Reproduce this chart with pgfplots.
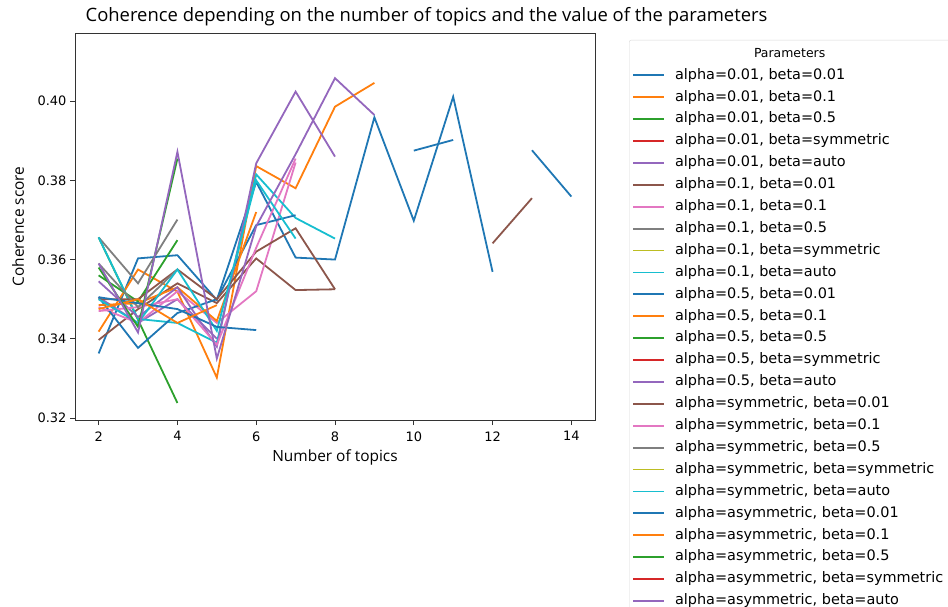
\documentclass[border=0pt]{standalone}
\usepackage{pgfplots}
\pgfplotsset{compat=1.18}
\usepackage{fontspec}
\setmainfont{DejaVu Sans}
\newfontfamily\titlefont{Open Sans}
\newfontfamily\labelfont{Open Sans}
\definecolor{tabblue}{HTML}{1F77B4}
\definecolor{taborange}{HTML}{FF7F0E}
\definecolor{tabgreen}{HTML}{2CA02C}
\definecolor{tabred}{HTML}{D62728}
\definecolor{tabpurple}{HTML}{9467BD}
\definecolor{tabbrown}{HTML}{8C564B}
\definecolor{tabpink}{HTML}{E377C2}
\definecolor{tabgray}{HTML}{7F7F7F}
\definecolor{tabolive}{HTML}{BCBD22}
\definecolor{tabcyan}{HTML}{17BECF}
\begin{document}
\begin{tikzpicture}
\path[use as bounding box] (0bp,0bp) rectangle (948bp,607bp);
\begin{scope}
\clip (0bp,0bp) rectangle (948bp,607bp);
\begin{axis}[
  at={(75bp,187bp)}, anchor=south west,
  width=520bp, height=387bp, scale only axis,
  xmin=1.4, xmax=14.6, ymin=0.3195, ymax=0.4172,
  xtick={2,4,6,8,10,12,14},
  ytick={0.32,0.34,0.36,0.38,0.40},
  yticklabels={0.32,0.34,0.36,0.38,0.40},
  tick label style={font=\fontsize{13}{15}\selectfont},
  xticklabel style={yshift=-3bp},
  /pgf/number format/assume math mode=true,
  tick align=outside, tick pos=left, major tick length=5bp,
  axis line style={draw=black!80, line width=0.9bp},
  every tick/.style={black!80, line width=0.9bp},
  unbounded coords=jump,
  every axis plot/.append style={line width=1.8bp},
  title={\titlefont\fontsize{18.5}{21}\selectfont Coherence depending on the number of topics and the value of the parameters},
  title style={at={(0.676,1.027)}, anchor=center, inner sep=0pt},
  xlabel={\labelfont\fontsize{15.5}{18}\selectfont Number of topics},
  xlabel style={at={(0.5,-0.0956)}, anchor=center, inner sep=0pt},
  ylabel={\labelfont\fontsize{15.5}{18}\selectfont Coherence score},
  ylabel style={at={(-0.1096,0.5)}, anchor=center, inner sep=0pt},
  legend style={at={(1.0654,0.9819)}, anchor=north west, draw=black!15, fill=white,
    rounded corners=2bp, font=\fontsize{14.5}{17}\selectfont,
    nodes={inner sep=0pt, text height=11bp, text depth=3.5bp},
    row sep=7.4bp, column sep=10bp, inner xsep=3bp, inner ysep=6bp},
  legend cell align=left,
  legend image code/.code={\draw[#1, line width=1.8bp] (0bp,0bp) -- (31bp,0bp);},
]
\addlegendimage{empty legend}
\addlegendentry{\hspace*{79bp}\fontsize{12.5}{15}\selectfont Parameters}
% 0
\addplot[tabblue] coordinates {(2,0.3363)(3,0.3603)(4,0.3611)(5,0.3498)(6,0.3796)(7,0.3605)(8,0.3600)(9,0.3959)(10,0.3698)(11,0.4011)(12,0.3569)};
\addlegendentry{alpha=0.01, beta=0.01}
% 1
\addplot[taborange] coordinates {(2,0.3418)(3,0.3575)(4,0.3519)(5,0.3302)(6,0.3836)(7,0.3780)(8,0.3986)(9,0.4046)};
\addlegendentry{alpha=0.01, beta=0.1}
% 2
\addplot[tabgreen] coordinates {(2,0.3656)(3,0.3448)(4,0.3238)};
\addlegendentry{alpha=0.01, beta=0.5}
% 3
\addlegendimage{tabred}
\addlegendentry{alpha=0.01, beta=symmetric}
% 4
\addplot[tabpurple] coordinates {(2,0.3505)(3,0.3440)(4,0.3500)(5,0.3400)};
\addlegendentry{alpha=0.01, beta=auto}
% 5
\addplot[tabbrown] coordinates {(2,0.3397)(3,0.3475)(4,0.3540)(5,0.3490)(6,0.3603)(7,0.3523)(8,0.3525)};
\addlegendentry{alpha=0.1, beta=0.01}
% 6
\addplot[tabpink] coordinates {(2,0.3480)(3,0.3440)(4,0.3520)(5,0.3440)(6,0.3520)(7,0.3845)};
\addlegendentry{alpha=0.1, beta=0.1}
% 7
\addplot[tabgray] coordinates {(2,0.3656)(3,0.3540)(4,0.3701)};
\addlegendentry{alpha=0.1, beta=0.5}
% 8
\addlegendimage{tabolive}
\addlegendentry{alpha=0.1, beta=symmetric}
% 9
\addplot[tabcyan] coordinates {(2,0.3656)(3,0.3450)(4,0.3440)(5,0.3390)(6,0.3815)(7,0.3705)(8,0.3653)};
\addlegendentry{alpha=0.1, beta=auto}
% 10
\addplot[tabblue] coordinates {(2,0.3505)(3,0.3377)(4,0.3465)(5,0.3500)(6,0.3687)(7,0.3712)};
\addlegendentry{alpha=0.5, beta=0.01}
% 11
\addplot[taborange] coordinates {(2,0.3485)(3,0.3490)(4,0.3530)(5,0.3445)(6,0.3720)};
\addlegendentry{alpha=0.5, beta=0.1}
% 12
\addplot[tabgreen] coordinates {(2,0.3560)(3,0.3494)(4,0.3649)};
\addlegendentry{alpha=0.5, beta=0.5}
% 13
\addlegendimage{tabred}
\addlegendentry{alpha=0.5, beta=symmetric}
% 14
\addplot[tabpurple] coordinates {(2,0.3545)(3,0.3455)(4,0.3530)(5,0.3380)(6,0.3843)(7,0.4024)(8,0.3860)};
\addlegendentry{alpha=0.5, beta=auto}
% 15
\addplot[tabbrown] coordinates {(2,0.3500)(3,0.3500)(4,0.3575)(5,0.3500)(6,0.3620)(7,0.3679)(8,0.3525)(9,nan)(10,nan)(11,nan)(12,0.3641)(13,0.3755)};
\addlegendentry{alpha=symmetric, beta=0.01}
% 16
\addplot[tabpink] coordinates {(2,0.3470)(3,0.3480)(4,0.3500)(5,0.3385)(6,0.3630)(7,0.3855)};
\addlegendentry{alpha=symmetric, beta=0.1}
% 17
\addplot[tabgray] coordinates {(2,0.3590)(3,0.3480)(4,0.3575)};
\addlegendentry{alpha=symmetric, beta=0.5}
% 18
\addlegendimage{tabolive}
\addlegendentry{alpha=symmetric, beta=symmetric}
% 19
\addplot[tabcyan] coordinates {(2,0.3500)(3,0.3440)(4,0.3575)(5,0.3420)(6,0.3800)(7,0.3653)};
\addlegendentry{alpha=symmetric, beta=auto}
% 20
\addplot[tabblue] coordinates {(2,0.3505)(3,0.3490)(4,0.3475)(5,0.3430)(6,0.3422)(7,nan)(8,nan)(9,nan)(10,0.3875)(11,0.3902)(12,nan)(13,0.3876)(14,0.3759)};
\addlegendentry{alpha=asymmetric, beta=0.01}
% 21
\addplot[taborange] coordinates {(2,0.3475)(3,0.3500)(4,0.3440)(5,0.3485)};
\addlegendentry{alpha=asymmetric, beta=0.1}
% 22
\addplot[tabgreen] coordinates {(2,0.3580)(3,0.3430)(4,0.3855)};
\addlegendentry{alpha=asymmetric, beta=0.5}
% 23
\addlegendimage{tabred}
\addlegendentry{alpha=asymmetric, beta=symmetric\hspace*{8bp}}
% 24
\addplot[tabpurple] coordinates {(2,0.3590)(3,0.3416)(4,0.3872)(5,0.3350)(6,0.3684)(7,0.3866)(8,0.4058)(9,0.3965)};
\addlegendentry{alpha=asymmetric, beta=auto}
\end{axis}
\end{scope}
\end{tikzpicture}
\end{document}
